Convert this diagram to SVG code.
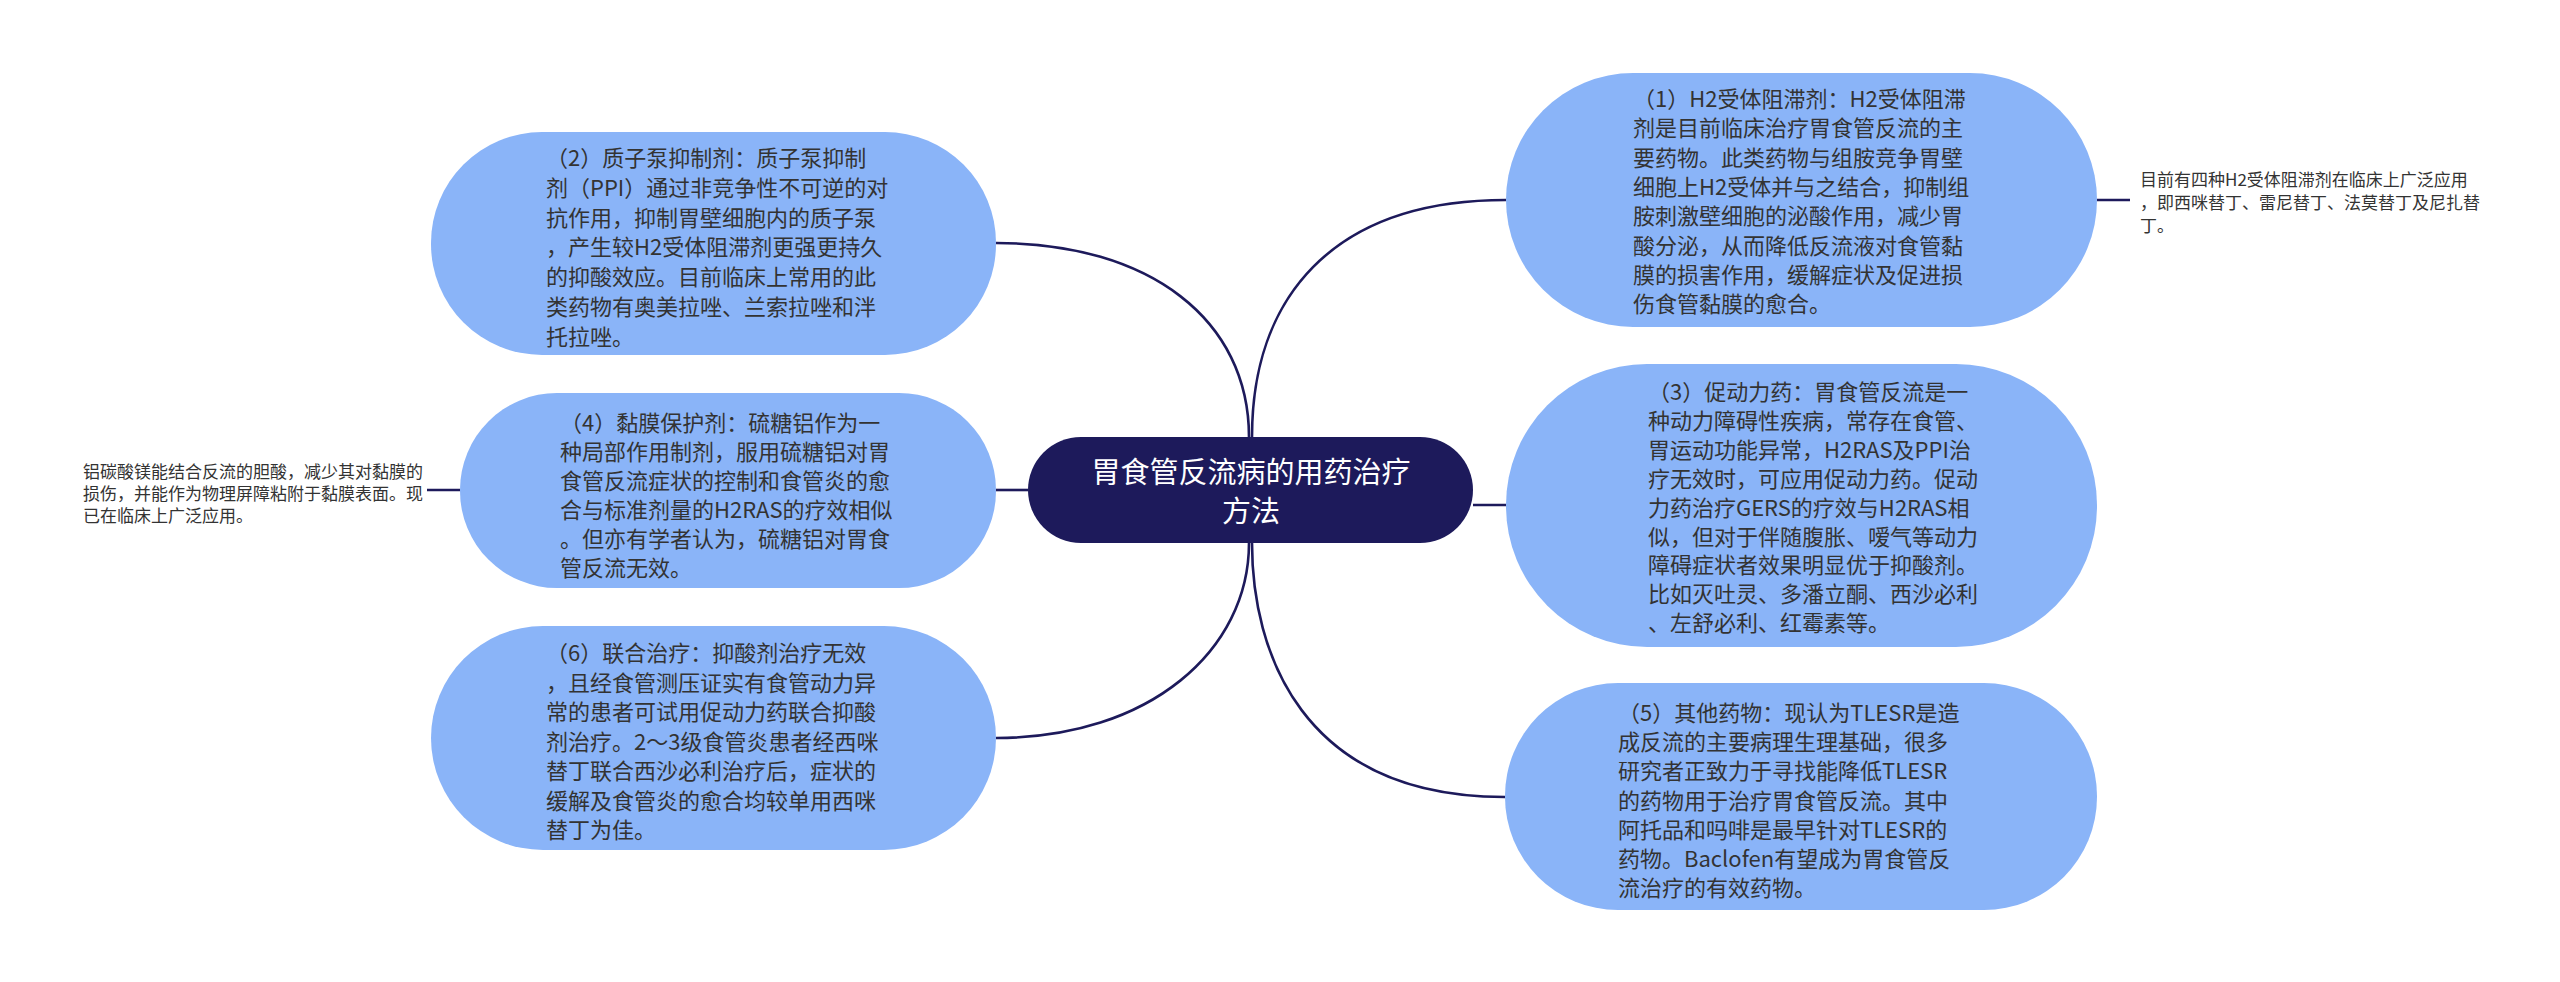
<svg xmlns="http://www.w3.org/2000/svg" width="2560" height="982" viewBox="0 0 2560 982">
<style>
.bg{fill:#ffffff}
.node{fill:#8ab4f8}
.root{fill:#1d1a5b}
.conn{fill:none;stroke:#1d1a5b;stroke-width:2.6}
.t{font-family:"Noto Sans CJK SC","Noto Sans",sans-serif;font-size:22px;fill:#333333}
.n{font-family:"Noto Sans CJK SC","Noto Sans",sans-serif;font-size:17px;fill:#333333}
.rt{font-family:"Noto Sans CJK SC","Noto Sans",sans-serif;font-size:29px;fill:#ffffff;text-anchor:middle}
</style>
<rect class="bg" x="0" y="0" width="2560" height="982"/>
<g id="connectors">
<path class="conn" d="M1249 437 C1249 320 1150 243 996 243"/>
<path class="conn" d="M1252 437 C1252 300 1330 200 1506 200"/>
<path class="conn" d="M1028 490 L996 490"/>
<path class="conn" d="M1473 505 L1506 505"/>
<path class="conn" d="M1249 543 C1249 650 1150 738 996 738"/>
<path class="conn" d="M1252 543 C1252 650 1300 797 1505 797"/>
<path class="conn" d="M2097 200 L2130 200"/>
<path class="conn" d="M460 490 L427 490"/>
</g>
<g id="root">
<rect class="root" x="1028" y="437" width="445" height="106" rx="53" ry="53"/>
<text class="rt" x="1251" y="483">胃食管反流病的用药治疗</text>
<text class="rt" x="1251" y="522">方法</text>
</g>
<g id="node1">
<rect class="node" x="1506" y="73" width="591" height="254" rx="127" ry="127"/>
<text class="t" x="1633">
<tspan x="1633" y="107">（1）H2受体阻滞剂：H2受体阻滞</tspan>
<tspan x="1633" y="136.3">剂是目前临床治疗胃食管反流的主</tspan>
<tspan x="1633" y="165.6">要药物。此类药物与组胺竞争胃壁</tspan>
<tspan x="1633" y="194.9">细胞上H2受体并与之结合，抑制组</tspan>
<tspan x="1633" y="224.2">胺刺激壁细胞的泌酸作用，减少胃</tspan>
<tspan x="1633" y="253.5">酸分泌，从而降低反流液对食管黏</tspan>
<tspan x="1633" y="282.8">膜的损害作用，缓解症状及促进损</tspan>
<tspan x="1633" y="312.1">伤食管黏膜的愈合。</tspan>
</text>
</g>
<g id="note1">
<text class="n">
<tspan x="2140" y="186">目前有四种H2受体阻滞剂在临床上广泛应用</tspan>
<tspan x="2140" y="209">，即西咪替丁、雷尼替丁、法莫替丁及尼扎替</tspan>
<tspan x="2140" y="232">丁。</tspan>
</text>
</g>
<g id="node3">
<rect class="node" x="1506" y="364" width="591" height="283" rx="141" ry="141"/>
<text class="t">
<tspan x="1648" y="400">（3）促动力药：胃食管反流是一</tspan>
<tspan x="1648" y="428.9">种动力障碍性疾病，常存在食管、</tspan>
<tspan x="1648" y="457.8">胃运动功能异常，H2RAS及PPI治</tspan>
<tspan x="1648" y="486.7">疗无效时，可应用促动力药。促动</tspan>
<tspan x="1648" y="515.6">力药治疗GERS的疗效与H2RAS相</tspan>
<tspan x="1648" y="544.5">似，但对于伴随腹胀、嗳气等动力</tspan>
<tspan x="1648" y="573.4">障碍症状者效果明显优于抑酸剂。</tspan>
<tspan x="1648" y="602.3">比如灭吐灵、多潘立酮、西沙必利</tspan>
<tspan x="1648" y="631.2">、左舒必利、红霉素等。</tspan>
</text>
</g>
<g id="node5">
<rect class="node" x="1505" y="683" width="592" height="227" rx="113" ry="113"/>
<text class="t">
<tspan x="1618" y="721">（5）其他药物：现认为TLESR是造</tspan>
<tspan x="1618" y="750.2">成反流的主要病理生理基础，很多</tspan>
<tspan x="1618" y="779.4">研究者正致力于寻找能降低TLESR</tspan>
<tspan x="1618" y="808.6">的药物用于治疗胃食管反流。其中</tspan>
<tspan x="1618" y="837.8">阿托品和吗啡是最早针对TLESR的</tspan>
<tspan x="1618" y="867">药物。Baclofen有望成为胃食管反</tspan>
<tspan x="1618" y="896.2">流治疗的有效药物。</tspan>
</text>
</g>
<g id="node2">
<rect class="node" x="431" y="132" width="565" height="223" rx="111" ry="111"/>
<text class="t">
<tspan x="546" y="166">（2）质子泵抑制剂：质子泵抑制</tspan>
<tspan x="546" y="195.8">剂（PPI）通过非竞争性不可逆的对</tspan>
<tspan x="546" y="225.6">抗作用，抑制胃壁细胞内的质子泵</tspan>
<tspan x="546" y="255.4">，产生较H2受体阻滞剂更强更持久</tspan>
<tspan x="546" y="285.2">的抑酸效应。目前临床上常用的此</tspan>
<tspan x="546" y="315">类药物有奥美拉唑、兰索拉唑和泮</tspan>
<tspan x="546" y="344.8">托拉唑。</tspan>
</text>
</g>
<g id="node4">
<rect class="node" x="460" y="393" width="536" height="195" rx="97" ry="97"/>
<text class="t">
<tspan x="560" y="431">（4）黏膜保护剂：硫糖铝作为一</tspan>
<tspan x="560" y="460">种局部作用制剂，服用硫糖铝对胃</tspan>
<tspan x="560" y="489">食管反流症状的控制和食管炎的愈</tspan>
<tspan x="560" y="518">合与标准剂量的H2RAS的疗效相似</tspan>
<tspan x="560" y="547">。但亦有学者认为，硫糖铝对胃食</tspan>
<tspan x="560" y="576">管反流无效。</tspan>
</text>
</g>
<g id="note4">
<text class="n">
<tspan x="83" y="478">铝碳酸镁能结合反流的胆酸，减少其对黏膜的</tspan>
<tspan x="83" y="500">损伤，并能作为物理屏障粘附于黏膜表面。现</tspan>
<tspan x="83" y="522">已在临床上广泛应用。</tspan>
</text>
</g>
<g id="node6">
<rect class="node" x="431" y="626" width="565" height="224" rx="112" ry="112"/>
<text class="t">
<tspan x="546" y="661">（6）联合治疗：抑酸剂治疗无效</tspan>
<tspan x="546" y="690.5">，且经食管测压证实有食管动力异</tspan>
<tspan x="546" y="720">常的患者可试用促动力药联合抑酸</tspan>
<tspan x="546" y="749.5">剂治疗。2～3级食管炎患者经西咪</tspan>
<tspan x="546" y="779">替丁联合西沙必利治疗后，症状的</tspan>
<tspan x="546" y="808.5">缓解及食管炎的愈合均较单用西咪</tspan>
<tspan x="546" y="838">替丁为佳。</tspan>
</text>
</g>
</svg>
